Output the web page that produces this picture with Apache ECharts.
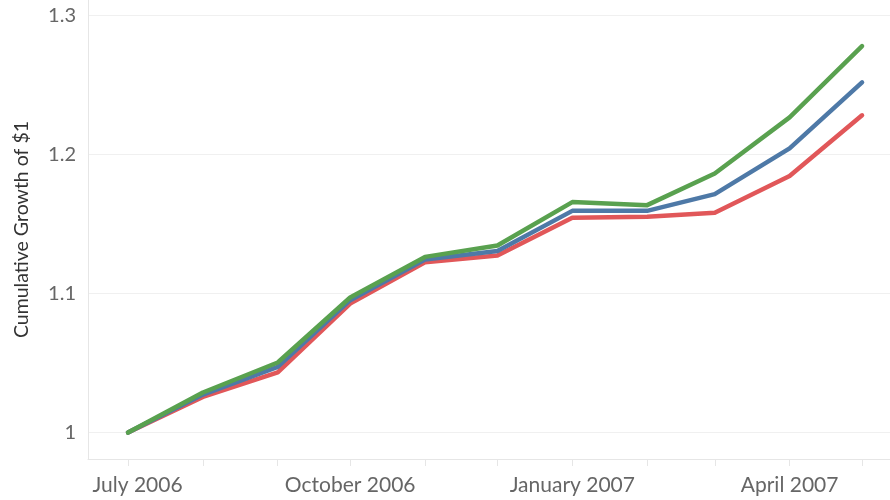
<!DOCTYPE html>
<html>
<head>
<meta charset="utf-8">
<script src="https://cdn.jsdelivr.net/npm/echarts@6/dist/echarts.min.js"></script>
<style>html,body{margin:0;padding:0;background:#fff}#c{width:890px;height:500px}</style>
</head>
<body>
<div id="c"></div>
<script>
// Data
const dates = ['2006-07-01','2006-08-01','2006-09-01','2006-10-01','2006-11-01','2006-12-01','2007-01-01','2007-02-01','2007-03-01','2007-04-01','2007-05-01'];
const greenSeries = [1.000, 1.0288, 1.0504, 1.0971, 1.1263, 1.1345, 1.1657, 1.1635, 1.1863, 1.2266, 1.2779];
const blueSeries  = [1.000, 1.0273, 1.0472, 1.0952, 1.1245, 1.1306, 1.1594, 1.1594, 1.1714, 1.2043, 1.2518];
const redSeries   = [1.000, 1.0256, 1.0432, 1.0928, 1.1225, 1.1273, 1.1544, 1.1551, 1.1580, 1.1844, 1.2281];
const yTicks = [1, 1.1, 1.2, 1.3];
const xTickDates = dates;
const xLabelDates = ['2006-07-01','2006-10-01','2007-01-01','2007-04-01'];
const monthNames = ['January','February','March','April','May','June','July','August','September','October','November','December'];

function ts(s){ const p = s.split('-'); return new Date(+p[0], +p[1]-1, +p[2]).getTime(); }
function pairs(vals){ return dates.map((d,i)=>[ts(d), vals[i]]); }

const chart = echarts.init(document.getElementById('c'), null, {renderer:'canvas'});
const font = 'Lato, "Noto Sans", sans-serif';
const lineStyle = (c)=>({color:c, width:4.5, cap:'round', join:'round'});

chart.setOption({
  animation:false,
  grid:{left:88, right:0, top:0, bottom:41, outerBoundsMode:'none', containLabel:false},
  xAxis:{
    type:'value',
    scale:true,
    min: ts('2006-06-14') + 10*3600e3,
    max: ts('2007-05-12') + 14*3600e3,
    axisLine:{show:true, lineStyle:{color:'#e6e6e6', width:1}},
    axisTick:{show:true, length:7, lineStyle:{color:'#e6e6e6'}, customValues: xTickDates.map(ts)},
    splitLine:{show:false},
    axisLabel:{
      customValues: xLabelDates.map(ts),
      margin:16,
      color:'#666', fontFamily:font, fontSize:21,
      formatter:function(v){
        const d = new Date(v);
        const t = monthNames[d.getMonth()] + ' ' + d.getFullYear();
        return (d.getMonth()===6) ? '{first|' + t + '}' : t;
      },
      rich:{first:{padding:[0,0,0,19], color:'#666', fontFamily:font, fontSize:21}}
    }
  },
  yAxis:{
    type:'value',
    min:0.981, max:1.311,
    name:'Cumulative Growth of $1',
    nameLocation:'middle', nameRotate:90, nameGap:56,
    nameTextStyle:{color:'#333', fontFamily:font, fontSize:19.5},
    axisLine:{show:true, lineStyle:{color:'#e6e6e6', width:1}},
    axisTick:{show:false, customValues: yTicks},
    splitLine:{show:true, lineStyle:{color:'#f0f0f0', width:1}},
    axisLabel:{customValues: yTicks, margin:12, color:'#666', fontFamily:font, fontSize:20,
      formatter:function(v){ return String(Math.round(v*10)/10); }}
  },
  series:[
    {name:'Red', type:'line', data:pairs(redSeries), showSymbol:false, symbol:'none', lineStyle:lineStyle('#e15759'), emphasis:{disabled:true}},
    {name:'Blue', type:'line', data:pairs(blueSeries), showSymbol:false, symbol:'none', lineStyle:lineStyle('#4e79a7'), emphasis:{disabled:true}},
    {name:'Green', type:'line', data:pairs(greenSeries), showSymbol:false, symbol:'none', lineStyle:lineStyle('#59a14f'), emphasis:{disabled:true}}
  ]
});
</script>
</body>
</html>
